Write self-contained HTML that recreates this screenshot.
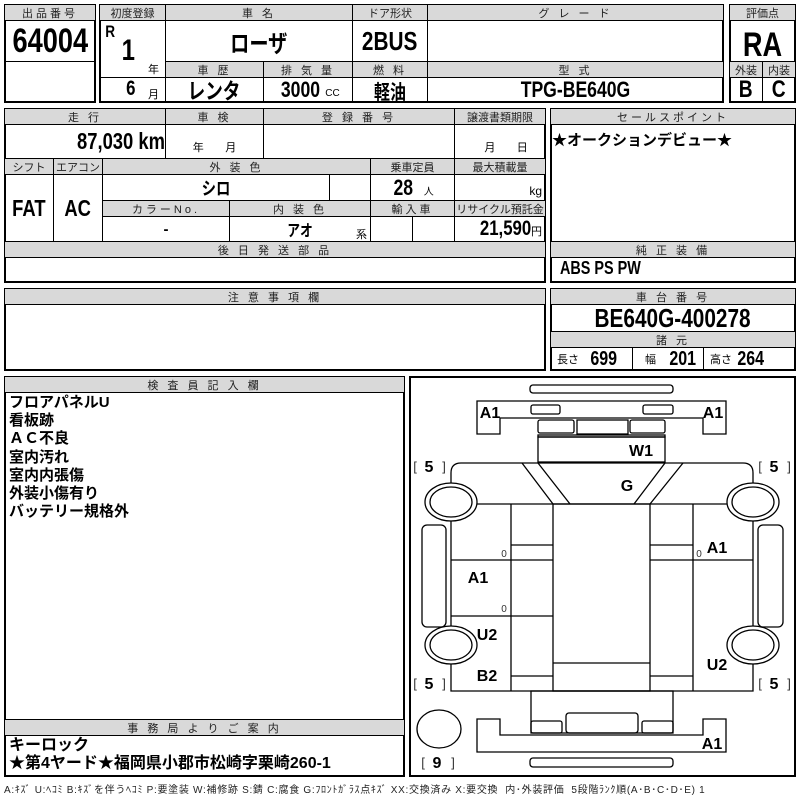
<!DOCTYPE html>
<html><head><meta charset="utf-8"><style>
body{margin:0;width:800px;height:800px;background:#fff;position:relative;overflow:hidden;font-family:"Liberation Sans","Noto Sans CJK JP",sans-serif;}
.c{position:absolute;border:1px solid #000;box-sizing:border-box;display:flex;align-items:center;justify-content:center;white-space:nowrap;color:#000}
.h{background:#d9d9d9;font-size:11px;letter-spacing:3px;color:#222}
.b{font-weight:bold}
.n{display:inline-block;transform:scaleX(.8)}
.o{position:absolute;border:2px solid #000;box-sizing:border-box}
.t{position:absolute;white-space:nowrap}
</style></head><body>
<div class="o" style="left:4px;top:4px;width:92px;height:99px"></div>
<div class="o" style="left:99px;top:4px;width:625px;height:99px"></div>
<div class="o" style="left:729px;top:4px;width:67px;height:99px"></div>
<div class="o" style="left:4px;top:108px;width:542px;height:175px"></div>
<div class="o" style="left:550px;top:108px;width:246px;height:175px"></div>
<div class="o" style="left:4px;top:288px;width:542px;height:83px"></div>
<div class="o" style="left:550px;top:288px;width:246px;height:83px"></div>
<div class="o" style="left:4px;top:376px;width:401px;height:401px"></div>
<div class="o" style="left:409px;top:376px;width:387px;height:401px"></div>

<div class="c h" style="left:4px;top:4px;width:92px;height:17px">出品番号</div>
<div class="c b" style="left:4px;top:20px;width:92px;height:42px;font-size:34px"><span class="n">64004</span></div>
<div class="c h" style="left:99px;top:4px;width:67px;height:17px;letter-spacing:0">初度登録</div>
<div class="c h" style="left:165px;top:4px;width:188px;height:17px">車 名</div>
<div class="c h" style="left:352px;top:4px;width:76px;height:17px;letter-spacing:0">ドア形状</div>
<div class="c h" style="left:427px;top:4px;width:297px;height:17px">グ レ ー ド</div>
<div class="c" style="left:99px;top:20px;width:67px;height:58px"></div>
<div class="t b" style="left:104px;top:22px;font-size:17px"><span class="n">R</span></div>
<div class="t b" style="left:120px;top:34px;font-size:30px"><span class="n">1</span></div>
<div class="t" style="left:148px;top:61px;font-size:11px">年</div>
<div class="c b" style="left:165px;top:20px;width:188px;height:42px;font-size:24px"><span class="n">ローザ</span></div>
<div class="c b" style="left:352px;top:20px;width:76px;height:42px;font-size:26px"><span class="n">2BUS</span></div>
<div class="c" style="left:427px;top:20px;width:297px;height:42px"></div>
<div class="c h" style="left:165px;top:61px;width:99px;height:17px">車 歴</div>
<div class="c h" style="left:263px;top:61px;width:90px;height:17px">排 気 量</div>
<div class="c h" style="left:352px;top:61px;width:76px;height:17px">燃 料</div>
<div class="c h" style="left:427px;top:61px;width:297px;height:17px">型 式</div>
<div class="c" style="left:99px;top:77px;width:67px;height:26px"></div>
<div class="t b" style="left:125px;top:77px;font-size:21px"><span class="n">6</span></div>
<div class="t" style="left:148px;top:86px;font-size:11px">月</div>
<div class="c b" style="left:165px;top:77px;width:99px;height:26px;font-size:22px"><span class="n">レンタ</span></div>
<div class="c" style="left:263px;top:77px;width:90px;height:26px"><span class="b n" style="font-size:22px">3000</span><span style="font-size:10px;margin:6px 0 0 0">CC</span></div>
<div class="c b" style="left:352px;top:77px;width:76px;height:26px;font-size:20px"><span class="n">軽油</span></div>
<div class="c b" style="left:427px;top:77px;width:297px;height:26px;font-size:22px"><span class="n">TPG-BE640G</span></div>
<div class="c h" style="left:729px;top:4px;width:67px;height:17px;letter-spacing:0">評価点</div>
<div class="c b" style="left:729px;top:20px;width:67px;height:42px;font-size:34px;padding-top:8px"><span class="n">RA</span></div>
<div class="c h" style="left:729px;top:61px;width:34px;height:17px;letter-spacing:0">外装</div>
<div class="c h" style="left:762px;top:61px;width:34px;height:17px;letter-spacing:0">内装</div>
<div class="c b" style="left:729px;top:77px;width:34px;height:26px;font-size:24px"><span class="n">B</span></div>
<div class="c b" style="left:762px;top:77px;width:34px;height:26px;font-size:24px"><span class="n">C</span></div>

<div class="c h" style="left:4px;top:108px;width:162px;height:17px">走 行</div>
<div class="c h" style="left:165px;top:108px;width:99px;height:17px">車 検</div>
<div class="c h" style="left:263px;top:108px;width:192px;height:17px">登 録 番 号</div>
<div class="c h" style="left:454px;top:108px;width:92px;height:17px;letter-spacing:0">譲渡書類期限</div>
<div class="c b" style="left:4px;top:124px;width:162px;height:35px;justify-content:flex-end;padding-right:0;font-size:23px"><span class="n" style="transform-origin:right">87,030 km</span></div>
<div class="c" style="left:165px;top:124px;width:99px;height:35px;align-items:flex-end;font-size:11px;padding-bottom:3px">年&nbsp;&nbsp;&nbsp;&nbsp;&nbsp;&nbsp;&nbsp;月</div>
<div class="c" style="left:263px;top:124px;width:192px;height:35px"></div>
<div class="c" style="left:454px;top:124px;width:92px;height:35px;align-items:flex-end;font-size:11px;padding-bottom:3px">&nbsp;&nbsp;&nbsp;&nbsp;月&nbsp;&nbsp;&nbsp;&nbsp;&nbsp;&nbsp;&nbsp;日</div>
<div class="c h" style="left:4px;top:158px;width:50px;height:17px;letter-spacing:0">シフト</div>
<div class="c h" style="left:53px;top:158px;width:50px;height:17px;letter-spacing:0">エアコン</div>
<div class="c h" style="left:102px;top:158px;width:269px;height:17px">外 装 色</div>
<div class="c h" style="left:370px;top:158px;width:85px;height:17px;letter-spacing:0">乗車定員</div>
<div class="c h" style="left:454px;top:158px;width:92px;height:17px;letter-spacing:0">最大積載量</div>
<div class="c b" style="left:4px;top:174px;width:50px;height:68px;font-size:23px"><span class="n">FAT</span></div>
<div class="c b" style="left:53px;top:174px;width:50px;height:68px;font-size:23px"><span class="n">AC</span></div>
<div class="c b" style="left:102px;top:174px;width:228px;height:27px;font-size:18px"><span class="n">シロ</span></div>
<div class="c" style="left:329px;top:174px;width:42px;height:27px"></div>
<div class="c" style="left:370px;top:174px;width:85px;height:27px"><span class="b n" style="font-size:22px">28</span><span style="font-size:10px;margin:6px 0 0 8px">人</span></div>
<div class="c" style="left:454px;top:174px;width:92px;height:27px;justify-content:flex-end;padding-right:3px;font-size:12px;padding-top:6px">kg</div>
<div class="c h" style="left:102px;top:200px;width:128px;height:17px">カラーNo.</div>
<div class="c h" style="left:229px;top:200px;width:142px;height:17px">内 装 色</div>
<div class="c h" style="left:370px;top:200px;width:85px;height:17px">輸入車</div>
<div class="c h" style="left:454px;top:200px;width:92px;height:17px;letter-spacing:0">リサイクル預託金</div>
<div class="c b" style="left:102px;top:216px;width:128px;height:26px;font-size:15px">-</div>
<div class="c b" style="left:229px;top:216px;width:142px;height:26px;font-size:16px"><span class="n">アオ</span></div>
<div class="t" style="left:356px;top:226px;font-size:11px">系</div>
<div class="c" style="left:370px;top:216px;width:43px;height:26px"></div>
<div class="c" style="left:412px;top:216px;width:43px;height:26px"></div>
<div class="c" style="left:454px;top:216px;width:92px;height:26px;justify-content:flex-end;padding-right:3px"><span class="b n" style="font-size:21px;transform-origin:right">21,590</span><span style="font-size:11px;margin-top:4px">円</span></div>
<div class="c h" style="left:4px;top:241px;width:542px;height:17px">後 日 発 送 部 品</div>

<div class="c h" style="left:550px;top:108px;width:246px;height:17px">セールスポイント</div>
<div class="t b" style="left:552px;top:129px;font-size:15px">★オークションデビュー★</div>
<div class="c h" style="left:550px;top:241px;width:246px;height:17px">純 正 装 備</div>
<div class="t b" style="left:560px;top:258px;font-size:18px"><span class="n" style="transform-origin:left">ABS PS PW</span></div>

<div class="c h" style="left:4px;top:288px;width:542px;height:17px">注 意 事 項 欄</div>
<div class="c h" style="left:550px;top:288px;width:246px;height:17px">車 台 番 号</div>
<div class="c b" style="left:550px;top:304px;width:246px;height:28px;font-size:26px"><span class="n">BE640G-400278</span></div>
<div class="c h" style="left:550px;top:331px;width:246px;height:17px">諸 元</div>
<div class="c" style="left:550px;top:347px;width:83px;height:24px;justify-content:flex-start;padding-left:6px"><span style="font-size:11px">長さ</span><span class="b n" style="font-size:20px;margin-left:8px">699</span></div>
<div class="c" style="left:632px;top:347px;width:72px;height:24px;justify-content:flex-start;padding-left:12px"><span style="font-size:11px">幅</span><span class="b n" style="font-size:20px;margin-left:10px">201</span></div>
<div class="c" style="left:703px;top:347px;width:93px;height:24px;justify-content:flex-start;padding-left:6px"><span style="font-size:11px">高さ</span><span class="b n" style="font-size:20px;margin-left:2px">264</span></div>

<div class="c h" style="left:4px;top:376px;width:401px;height:17px">検 査 員 記 入 欄</div>
<div class="t" style="left:9px;top:394px;font-size:15px;font-weight:bold;line-height:18.2px">フロアパネルU<br>看板跡<br>ＡＣ不良<br>室内汚れ<br>室内内張傷<br>外装小傷有り<br>バッテリー規格外</div>
<div class="c h" style="left:4px;top:719px;width:401px;height:17px">事 務 局 よ り ご 案 内</div>
<div class="t" style="left:9px;top:737px;font-size:16px;font-weight:bold;line-height:18px">キーロック<br>★第4ヤード★福岡県小郡市松崎字栗崎260-1</div>

<div class="t" style="left:4px;top:781px;font-size:10px;letter-spacing:0.7px;color:#222">A:ｷｽﾞ U:ﾍｺﾐ B:ｷｽﾞを伴うﾍｺﾐ P:要塗装 W:補修跡 S:錆 C:腐食 G:ﾌﾛﾝﾄｶﾞﾗｽ点ｷｽﾞ XX:交換済み X:要交換 &nbsp;内･外装評価 &nbsp;5段階ﾗﾝｸ順(A･B･C･D･E) 1</div>

<svg style="position:absolute;left:0;top:0" width="800" height="800" fill="none" stroke="#000" stroke-width="1.3">
<rect x="530" y="385" width="143" height="8" rx="3"/>
<path d="M477 401 H726 V434 H703 V418 H500 V434 H477 Z"/>
<rect x="531" y="405" width="29" height="9" rx="2"/>
<rect x="643" y="405" width="30" height="9" rx="2"/>
<rect x="538" y="420" width="36" height="13" rx="2"/>
<rect x="630" y="420" width="35" height="13" rx="2"/>
<rect x="577" y="420" width="51" height="14"/>
<rect x="538" y="435" width="127" height="2"/>
<rect x="538" y="437" width="127" height="25"/>
<path d="M461 463 H743 Q753 463 753 473 V691 H451 V473 Q451 463 461 463 Z"/>
<path d="M522 463 L553 504 M538 463 L570 504 M665 463 L634 504 M683 463 L650 504"/>
<line x1="451" y1="504" x2="753" y2="504"/>
<rect x="553" y="504" width="97" height="187"/>
<line x1="553" y1="663" x2="650" y2="663"/>
<line x1="511" y1="504" x2="511" y2="691"/>
<line x1="693" y1="504" x2="693" y2="691"/>
<path d="M511 545 H553 M451 560 H553 M451 616 H553 M511 676 H553 M650 545 H693 M650 560 H753 M650 676 H693"/>
<g fill="#fff">
<ellipse cx="451" cy="502" rx="26" ry="19"/><ellipse cx="451" cy="502" rx="21" ry="15"/>
<ellipse cx="451" cy="645" rx="26" ry="19"/><ellipse cx="451" cy="645" rx="21" ry="15"/>
<ellipse cx="753" cy="502" rx="26" ry="19"/><ellipse cx="753" cy="502" rx="21" ry="15"/>
<ellipse cx="753" cy="645" rx="26" ry="19"/><ellipse cx="753" cy="645" rx="21" ry="15"/>
</g>
<ellipse cx="439" cy="729" rx="22" ry="19"/>
<rect x="422" y="525" width="24" height="102" rx="5"/>
<rect x="758" y="525" width="25" height="102" rx="5"/>
<rect x="531" y="691" width="142" height="42"/>
<rect x="531" y="721" width="31" height="12" rx="2"/>
<rect x="566" y="713" width="72" height="20" rx="3"/>
<rect x="642" y="721" width="31" height="12" rx="2"/>
<path d="M477 719 H500 V735 H703 V719 H726 V752 H477 Z"/>
<rect x="530" y="758" width="143" height="9" rx="3"/>
<g fill="#000" stroke="none" font-family="Liberation Sans,sans-serif" font-weight="bold" font-size="16" text-anchor="middle">
<text x="490" y="418">A1</text><text x="713" y="418">A1</text>
<text x="641" y="456">W1</text><text x="627" y="491">G</text>
<text x="717" y="553">A1</text><text x="478" y="583">A1</text>
<text x="487" y="640">U2</text><text x="487" y="681">B2</text>
<text x="717" y="670">U2</text><text x="712" y="749">A1</text>
<text x="429" y="472">5</text><text x="774" y="472">5</text>
<text x="429" y="689">5</text><text x="774" y="689">5</text>
<text x="437" y="768">9</text>
</g>
<g fill="#333" stroke="none" font-family="Liberation Sans,sans-serif" font-size="13" text-anchor="middle">
<text x="415" y="471">[</text><text x="444" y="471">]</text>
<text x="760" y="471">[</text><text x="789" y="471">]</text>
<text x="415" y="688">[</text><text x="444" y="688">]</text>
<text x="760" y="688">[</text><text x="789" y="688">]</text>
<text x="423" y="767">[</text><text x="453" y="767">]</text>
<text x="504" y="557" font-size="10">0</text><text x="699" y="557" font-size="10">0</text><text x="504" y="612" font-size="10">0</text>
</g>
</svg>
</body></html>
